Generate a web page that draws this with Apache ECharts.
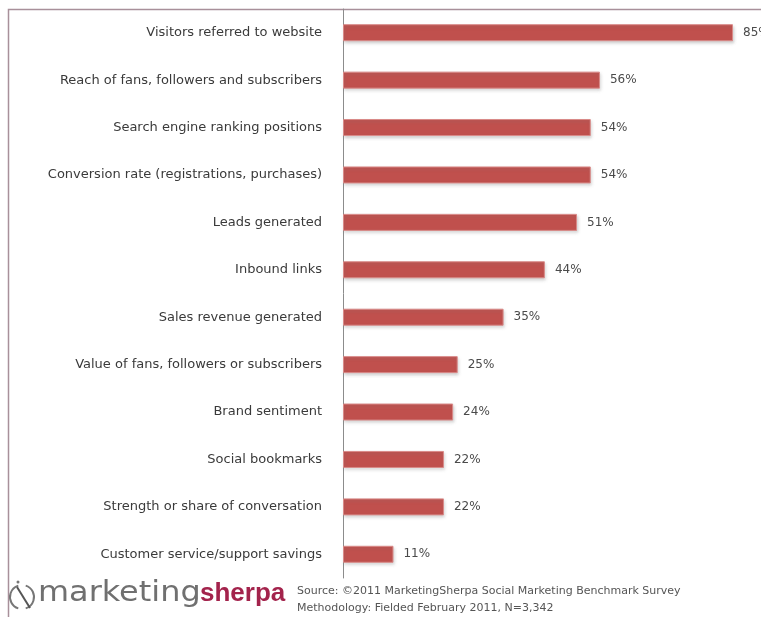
<!DOCTYPE html>
<html>
<head>
<meta charset="utf-8">
<script src="https://cdn.jsdelivr.net/npm/echarts@6/dist/echarts.min.js"></script>
<style>
html,body{margin:0;padding:0;background:#fff;}
#chart{width:761px;height:617px;}
</style>
</head>
<body>
<div id="chart"></div>
<script>
const categories = [
  "Visitors referred to website",
  "Reach of fans, followers and subscribers",
  "Search engine ranking positions",
  "Conversion rate (registrations, purchases)",
  "Leads generated",
  "Inbound links",
  "Sales revenue generated",
  "Value of fans, followers or subscribers",
  "Brand sentiment",
  "Social bookmarks",
  "Strength or share of conversation",
  "Customer service/support savings"
];
const values = [85, 56, 54, 54, 51, 44, 35, 25, 24, 22, 22, 11];
const sourceLines = [
  "Source: ©2011 MarketingSherpa Social Marketing Benchmark Survey",
  "Methodology: Fielded February 2011, N=3,342"
];

const chart = echarts.init(document.getElementById('chart'), null, {renderer: 'canvas'});
chart.setOption({
  backgroundColor: '#ffffff',
  animation: false,
  grid: {left: 343, right: 28, top: 9, bottom: 39, containLabel: false},
  xAxis: {
    type: 'value', min: 0, max: 85,
    show: false
  },
  yAxis: {
    type: 'category',
    data: categories,
    inverse: true,
    axisLine: {show: true, lineStyle: {color: '#8c8c8c', width: 1}},
    axisTick: {show: false},
    axisLabel: {
      color: '#3a3a3a', fontFamily: 'DejaVu Sans', fontSize: 13, margin: 21
    },
    splitLine: {show: false}
  },
  series: [{
    type: 'bar',
    data: values,
    barWidth: 17,
    itemStyle: {
      color: '#C0504D',
      borderColor: '#d98a88', borderWidth: 1,
      shadowColor: 'rgba(120,120,120,0.35)', shadowBlur: 3, shadowOffsetX: 1, shadowOffsetY: 2
    },
    label: {
      show: true, position: 'right', distance: 10,
      formatter: '{c}%', color: '#4a4a4a', fontFamily: 'DejaVu Sans', fontSize: 12
    }
  }],
  graphic: [
    {type: 'rect', shape: {x: 8.5, y: 9.5, width: 800, height: 700},
     style: {fill: null, stroke: '#a8909a', lineWidth: 1.5}, silent: true},
    {type: 'text', x: 38, y: 580, scaleX: 1.14,
     style: {text: 'marketing', font: '28px "DejaVu Sans"', fill: '#707070', verticalAlign: 'top'}},
    {type: 'text', x: 200, y: 581,
     style: {text: 'sherpa', font: 'bold 26px "Liberation Sans"', fill: '#a3234c', verticalAlign: 'top'}},
    {type: 'arc', shape: {cx: 22, cy: 597, r: 12, startAngle: Math.PI*0.6, endAngle: Math.PI*1.4},
     style: {stroke: '#777', lineWidth: 2, fill: null}},
    {type: 'arc', shape: {cx: 22, cy: 597, r: 12, startAngle: -Math.PI*0.4, endAngle: Math.PI*0.4},
     style: {stroke: '#777', lineWidth: 2, fill: null}},
    {type: 'line', shape: {x1: 17, y1: 587, x2: 30, y2: 608}, style: {stroke: '#555', lineWidth: 2}},
    {type: 'circle', shape: {cx: 18, cy: 582, r: 1.5}, style: {fill: '#777'}},
    {type: 'text', left: 297, top: 586,
     style: {text: sourceLines[0], font: '11px "DejaVu Sans"', fill: '#555'}},
    {type: 'text', left: 297, top: 603,
     style: {text: sourceLines[1], font: '11px "DejaVu Sans"', fill: '#555'}}
  ]
});
</script>
</body>
</html>
